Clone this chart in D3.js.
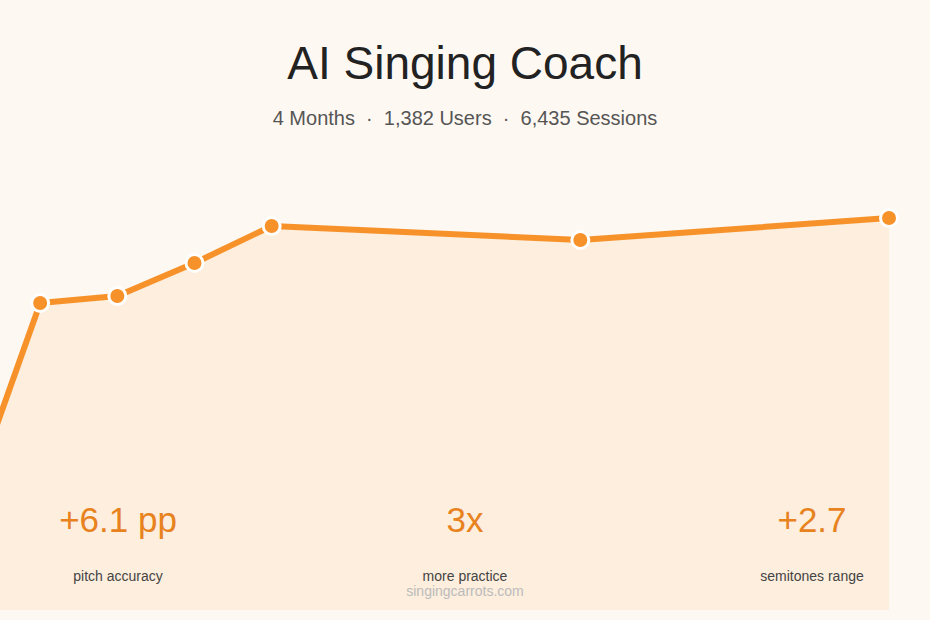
<!DOCTYPE html>
<html>
<head>
<meta charset="utf-8">
<script src="https://cdn.jsdelivr.net/npm/d3@7"></script>
<style>
  body { margin: 0; background: #fef8f2; }
  svg { display: block; font-family: "Helvetica Neue", "Liberation Sans", Arial, sans-serif; }
</style>
</head>
<body>
<div id="chart"></div>
<script>
// Data
const weeks = [0, 1, 2, 3, 4, 8, 12];
const accuracy = [64.0, 74.85, 75.2, 76.85, 78.7, 78.0, 79.1];
const stats = ["+6.1 pp", "3x", "+2.7"];
const statLabels = ["pitch accuracy", "more practice", "semitones range"];
const title = "AI Singing Coach";
const subtitle = "4 Months  ·  1,382 Users  ·  6,435 Sessions";

const width = 930, height = 620;

const svg = d3.select("#chart").append("svg")
  .attr("width", width)
  .attr("height", height);

svg.append("rect").attr("width", width).attr("height", height).attr("fill", "#fef8f2");

// Scales
let x = d3.scaleLinear().domain([0, 12]).range([-37, 889]);
let y = d3.scaleLinear().domain([60, 80]).range([600, 200]);

const pts = weeks.map((w, i) => ({ w: w, v: accuracy[i] }));

// Area under line
const area = d3.area()
  .x(d => x(d.w))
  .y0(610)
  .y1(d => y(d.v));
svg.append("path")
  .datum(pts)
  .attr("d", area)
  .attr("fill", "#fdeedd");

// Line
const line = d3.line().x(d => x(d.w)).y(d => y(d.v));
svg.append("path")
  .datum(pts)
  .attr("d", line)
  .attr("fill", "none")
  .attr("stroke", "#f7922a")
  .attr("stroke-width", 6)
  .attr("stroke-linejoin", "round");

svg.selectAll("circle")
  .data(pts)
  .enter().append("circle")
  .attr("cx", d => x(d.w))
  .attr("cy", d => y(d.v))
  .attr("r", 8.5)
  .attr("fill", "#f7922a")
  .attr("stroke", "white")
  .attr("stroke-width", 3);

// Titles
svg.append("text")
  .attr("x", width / 2).attr("y", 79)
  .attr("text-anchor", "middle")
  .attr("font-size", "46px")
  .attr("fill", "#222")
  .text(title);

svg.append("text")
  .attr("x", width / 2).attr("y", 125)
  .attr("text-anchor", "middle")
  .attr("font-size", "20px")
  .attr("fill", "#555")
  .attr("xml:space", "preserve")
  .style("white-space", "pre")
  .text(subtitle);

// Stats
const statX = [118, 465, 812];
stats.forEach((s, i) => {
  svg.append("text")
    .attr("x", statX[i]).attr("y", 532)
    .attr("text-anchor", "middle")
    .attr("font-size", "35px")
    .attr("fill", "#e8821e")
    .text(s);
  svg.append("text")
    .attr("x", statX[i]).attr("y", 581)
    .attr("text-anchor", "middle")
    .attr("font-size", "14px")
    .attr("fill", "#444")
    .text(statLabels[i]);
});

svg.append("text")
  .attr("x", 465).attr("y", 596)
  .attr("text-anchor", "middle")
  .attr("font-size", "14px")
  .attr("fill", "#bbb")
  .text("singingcarrots.com");
</script>
</body>
</html>
